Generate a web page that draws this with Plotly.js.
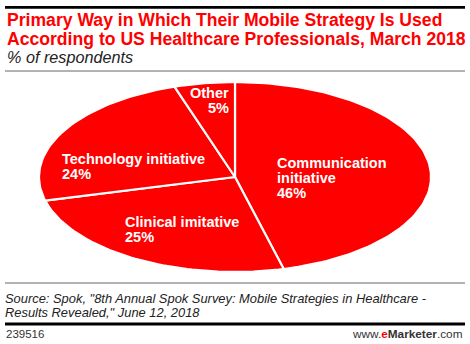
<!DOCTYPE html>
<html><head><meta charset="utf-8">
<script src="https://cdn.plot.ly/plotly-3.0.1.min.js"></script>
<style>html,body{margin:0;padding:0;background:#fff;overflow:hidden}#chart{width:470px;height:344px}</style>
</head><body><div id="chart"></div>
<script>
// ---- data ----
const categories = ["Communication<br>initiative", "Clinical imitative", "Technology initiative", "Other"];
const values = [46, 25, 24, 5];
const titleLines = ["Primary Way in Which Their Mobile Strategy Is Used", "According to US Healthcare Professionals, March 2018"];
const subtitle = "% of respondents";
const sourceLines = ["Source: Spok, \"8th Annual Spok Survey: Mobile Strategies in Healthcare -", "Results Revealed,\" June 12, 2018"];
const chartId = "239516";

// ---- style / layout config ----
const FONT = "Liberation Sans, Arial, sans-serif";
const RED = "#ff0000";
const pie = {cx: 235, cy: 177, rx: 196, ry: 95, steps: 240};
const labelPos = [
  {x: 275, y: 163, anchor: "left"},
  {x: 123, y: 222, anchor: "left"},
  {x: 60, y: 159, anchor: "left"},
  {x: 231, y: 93, anchor: "right"}
];
const labelLineGap = 15;

const total = values.reduce((a, b) => a + b, 0);
const traces = [];
let cum = 0;
values.forEach((v, i) => {
  const a0 = cum / total * 2 * Math.PI;
  const a1 = (cum + v) / total * 2 * Math.PI;
  cum += v;
  const xs = [pie.cx], ys = [pie.cy];
  const n = Math.max(2, Math.ceil(pie.steps * v / total));
  for (let k = 0; k <= n; k++) {
    const a = a0 + (a1 - a0) * k / n;
    xs.push(pie.cx + pie.rx * Math.sin(a));
    ys.push(pie.cy - pie.ry * Math.cos(a));
  }
  xs.push(pie.cx); ys.push(pie.cy);
  traces.push({
    type: "scatter", mode: "lines", x: xs, y: ys, fill: "toself",
    fillcolor: RED, line: {color: "#ffffff", width: 2.2},
    name: categories[i].replace("<br>", " "), text: categories[i].replace("<br>", " ") + ": " + v + "%",
    hoverinfo: "text", showlegend: false
  });
});

const annotations = [];
values.forEach((v, i) => {
  const lines = categories[i].split("<br>").concat([v + "%"]);
  lines.forEach((t, j) => {
    annotations.push({
      xref: "x", yref: "y", x: labelPos[i].x, y: labelPos[i].y + j * labelLineGap,
      xanchor: labelPos[i].anchor, yanchor: "middle", showarrow: false,
      text: "<b>" + t + "</b>", font: {family: FONT, size: 14.5, color: "#ffffff"}
    });
  });
});
titleLines.forEach((t, j) => {
  annotations.push({xref: "x", yref: "y", x: 5, y: 20 + j * 18.5, xanchor: "left", yanchor: "middle",
    showarrow: false, text: "<b>" + t + "</b>", font: {family: FONT, size: 17.6, color: RED}});
});
annotations.push({xref: "x", yref: "y", x: 5, y: 57, xanchor: "left", yanchor: "middle",
  showarrow: false, text: "<i>" + subtitle + "</i>", font: {family: FONT, size: 16.2, color: "#222222"}});
sourceLines.forEach((t, j) => {
  annotations.push({xref: "x", yref: "y", x: 4, y: 298.5 + j * 13.5, xanchor: "left", yanchor: "middle",
    showarrow: false, text: "<i>" + t + "</i>", font: {family: FONT, size: 12.9, color: "#222222"},
    borderpad: 0});
});
annotations.push({xref: "x", yref: "y", x: 4, y: 334, xanchor: "left", yanchor: "middle",
  showarrow: false, text: chartId, font: {family: FONT, size: 11.5, color: "#333333"}});
annotations.push({xref: "x", yref: "y", x: 465, y: 334, xanchor: "right", yanchor: "middle",
  showarrow: false, text: "www.<b><span style=\"color:#ff0000\">e</span>Marketer</b>.com",
  font: {family: FONT, size: 11.8, color: "#333333"}});

const shapes = [
  {type: "line", xref: "x", yref: "y", x0: 5, x1: 465, y0: 7.3, y1: 7.3, line: {color: "#000000", width: 2.7}},
  {type: "line", xref: "x", yref: "y", x0: 5, x1: 465, y0: 71, y1: 71, line: {color: "#666666", width: 1}},
  {type: "line", xref: "x", yref: "y", x0: 5, x1: 465, y0: 283, y1: 283, line: {color: "#999999", width: 1.5}},
  {type: "line", xref: "x", yref: "y", x0: 5, x1: 465, y0: 324, y1: 324, line: {color: "#000000", width: 3}}
];

const layout = {
  width: 470, height: 344, margin: {l: 0, r: 0, t: 0, b: 0, pad: 0},
  paper_bgcolor: "#ffffff", plot_bgcolor: "#ffffff",
  xaxis: {range: [0, 470], visible: false, fixedrange: true},
  yaxis: {range: [344, 0], visible: false, fixedrange: true},
  annotations: annotations, shapes: shapes, showlegend: false
};
Plotly.newPlot("chart", traces, layout, {displayModeBar: false, staticPlot: true});
</script></body></html>
